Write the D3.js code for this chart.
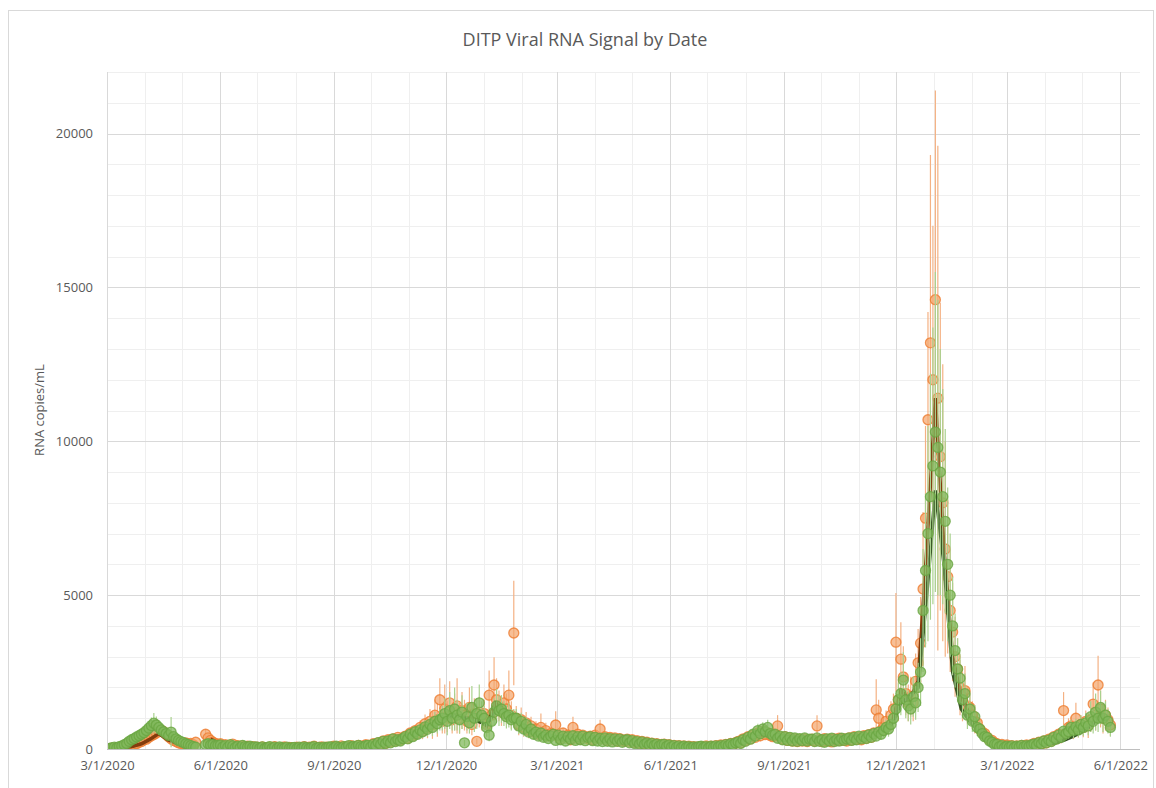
<!DOCTYPE html>
<html>
<head>
<meta charset="utf-8">
<script src="https://cdn.jsdelivr.net/npm/d3@7"></script>
<style>
  body { margin: 0; background: #fff; }
  text { font-family: "Open Sans", "DejaVu Sans", sans-serif; }
</style>
</head>
<body>
<div class="chart"></div>
<script>
// samples every 2 days starting 3/3/2020, one row = 15 samples (30 days)
var sampleStart = new Date(2020, 2, 3);
var sampleStep = 2;

var orangeVals = [
  10, 30, 20, 40, 30, 60, 50, 90, 80, 120, 150, 170, 220, 240, 300,              // 3/3/20
  320, 380, 430, 470, 520, 580, 610, 560, 480, 400, 330, 280, 240, 200, 180,     // 4/2
  170, 200, 150, 180, 140, 220, null, null, null, 480, 360, 280, 220, 180, 150,  // 5/2
  170, 100, 140, 80, 120, 160, 70, 110, 60, 100, 50, 90, 60, 80, 50,             // 6/1
  60, 30, 70, 40, 20, 60, 30, 80, 40, 20, 50, 70, 30, 50, 40,                    // 7/1
  30, 60, 20, 50, 80, 30, 60, 40, 90, 30, 50, 70, 40, 60, 30,                    // 7/31
  60, 90, 50, 40, 100, 60, 80, 50, 110, 70, 60, 120, 80, 100, 140,               // 8/30
  120, 80, 170, 130, 200, 160, 260, 190, 300, 230, 330, 270, 380, 300, 360,      // 9/29
  420, 350, 520, 440, 600, 520, 700, 580, 820, 700, 900, 780, 1100, 950, 1600,   // 10/29
  900, 1300, 1050, 1500, 950, 1200, 1400, 1000, 1250, 1100, 900, 1350, 800, 1150, 250, // 11/28
  1200, 1000, 1150, 800, 1750, 1100, 2080, 1600, 1400, 1200, 1500, 1300, 1750, 1100, 3770, // 12/28
  1000, 800, 950, 700, 850, 600, 750, 550, 650, 480, 700, 520, 600, 420, 500,    // 1/27/21
  480, 780, 400, 330, 520, 380, 450, 300, 700, 360, 480, 320, 450, 380, 330,     // 2/26
  420, 300, 450, 360, 650, 330, 400, 280, 380, 300, 360, 260, 340, 290, 250,     // 3/28
  320, 250, 300, 220, 270, 190, 250, 170, 220, 150, 190, 140, 170, 120, 150,     // 4/27
  160, 100, 140, 80, 120, 70, 110, 60, 100, 50, 90, 60, 80, 50, 70,              // 5/27
  80, 40, 100, 60, 90, 50, 110, 70, 130, 90, 150, 110, 180, 140, 210,            // 6/26
  250, 200, 330, 280, 400, 330, 450, 380, 520, 430, 580, 470, 530, 440, 400,     // 7/26
  450, 750, 380, 320, 400, 280, 350, 260, 330, 240, 310, 260, 330, 240, 300,     // 8/25
  320, 260, 750, 300, 240, 340, 260, 320, 230, 330, 270, 350, 280, 330, 260,     // 9/24
  360, 290, 400, 320, 380, 300, 430, 350, 470, 380, 520, 1270, 1000, 600, 700,   // 10/24
  900, 750, 1100, 1300, 3470, 1600, 2920, 2340, 1800, 1500, 1700, 1500, 2200, 2800, 3440, // 11/23
  5200, 7500, 10700, 13200, 12000, 14600, 11400, 9500, 8000, 6500, 5600, 4500, 3800, 3000, 2600, // 12/23
  2000, 1700, 1900, 1400, 1350, 1100, 900, 850, 650, 550, 500, 380, 300, 280, 200, // 1/22/22
  170, 110, 150, 90, 130, 70, 110, 60, 100, 80, 120, 70, 130, 90, 140,           // 2/21
  180, 130, 220, 160, 260, 200, 320, 260, 400, 330, 480, 400, 1250, 520, 700,    // 3/23
  750, 600, 1000, 650, 800, 700, 900, 760, 950, 1460, 1100, 2080, 1300, 1000, 1100, // 4/22
  950, 780                                                                       // 5/22
];

var orangeErr = [
  10, 10, 10, 15, 15, 20, 20, 30, 30, 40, 50, 60, 70, 80, 90,
  100, 120, 140, 160, 180, 200, 200, 180, 160, 130, 110, 90, 80, 70, 60,
  60, 60, 50, 50, 50, 70, null, null, null, 150, 120, 100, 70, 60, 50,
  40, 40, 35, 30, 30, 30, 25, 25, 25, 20, 20, 20, 20, 20, 20,
  15, 15, 15, 15, 15, 15, 15, 15, 15, 15, 15, 15, 15, 15, 15,
  15, 15, 15, 15, 15, 15, 15, 15, 15, 15, 15, 15, 15, 15, 15,
  15, 20, 20, 20, 20, 20, 25, 20, 25, 25, 25, 30, 30, 30, 30,
  30, 35, 40, 45, 50, 60, 70, 80, 90, 100, 100, 110, 110, 120, 120,
  120, 140, 150, 170, 190, 210, 230, 260, 300, 350, 400, 450, 500, 550, 700,
  400, 800, 500, 700, 450, 600, 900, 500, 600, 500, 400, 650, 350, 500, 100,
  500, 400, 450, 300, 800, 400, 900, 700, 500, 450, 600, 500, 800, 450, 1700,
  400, 350, 400, 300, 350, 250, 300, 200, 250, 180, 450, 200, 250, 150, 200,
  140, 450, 130, 120, 160, 140, 150, 120, 350, 130, 160, 120, 150, 130, 120,
  120, 110, 130, 120, 300, 110, 120, 100, 110, 100, 100, 90, 100, 90, 90,
  90, 85, 80, 75, 75, 70, 70, 65, 60, 55, 55, 50, 50, 45, 45,
  40, 40, 35, 35, 30, 30, 30, 25, 25, 25, 25, 25, 25, 25, 25,
  25, 25, 25, 25, 30, 30, 35, 35, 40, 45, 50, 55, 60, 65, 70,
  70, 80, 90, 110, 120, 140, 150, 160, 170, 180, 180, 170, 160, 150, 140,
  130, 350, 120, 110, 110, 100, 100, 90, 100, 90, 100, 90, 100, 90, 100,
  100, 90, 350, 100, 90, 100, 90, 100, 90, 100, 90, 110, 100, 110, 100,
  110, 120, 110, 130, 120, 140, 130, 150, 150, 160, 170, 1000, 600, 200, 250,
  350, 300, 450, 500, 1600, 700, 1200, 1000, 700, 600, 650, 600, 900, 1100, 1500,
  2500, 3000, 3500, 6100, 5000, 6800, 8200, 5000, 4500, 3500, 2500, 2000, 1600, 1300, 1000,
  900, 800, 800, 600, 550, 450, 400, 350, 280, 250, 200, 160, 140, 120, 100,
  60, 50, 50, 40, 40, 35, 35, 30, 35, 35, 40, 35, 45, 45, 50,
  60, 60, 70, 80, 90, 100, 120, 130, 150, 170, 200, 220, 600, 250, 300,
  300, 280, 500, 280, 300, 320, 350, 400, 400, 700, 500, 950, 600, 500, 500,
  400, 350
];

var greenVals = [
  20, 40, 60, 40, 80, 100, 140, 180, 250, 300, 340, 390, 430, 480, 530,
  600, 680, 760, 840, 780, 700, 620, 560, 500, 440, 550, 400, 330, 280, 240,
  210, 170, 140, 110, 80, 60, null, null, null, 140, 170, 130, 150, 110, 120,
  130, 70, 110, 60, 140, 100, 50, 90, 40, 120, 80, 60, 90, 50, 70,
  60, 30, 70, 20, 50, 80, 30, 60, 20, 70, 40, 30, 60, 20, 40,
  50, 20, 60, 30, 70, 40, 20, 60, 80, 30, 50, 20, 60, 40, 70,
  70, 40, 90, 50, 30, 80, 60, 110, 50, 90, 70, 120, 80, 60, 110,
  120, 70, 150, 110, 210, 150, 250, 180, 260, 200, 330, 240, 300, 260, 340,
  400, 330, 480, 400, 560, 480, 620, 560, 720, 640, 800, 700, 900, 820, 950,
  1000, 1150, 900, 1250, 1000, 1300, 1100, 950, 1200, 200, 1050, 850, 1350, 1000, 1150,
  1500, 1100, 1000, 700, 450, 900, 1200, 1400, 1250, 1300, 1150, 1050, 1100, 950, 1000,
  1000, 750, 900, 650, 800, 550, 650, 480, 550, 420, 520, 380, 450, 340, 420,
  480, 280, 450, 300, 420, 260, 400, 320, 430, 280, 400, 300, 420, 270, 380,
  400, 270, 380, 260, 350, 240, 360, 250, 340, 230, 330, 250, 320, 220, 290,
  300, 200, 270, 180, 240, 160, 230, 150, 200, 130, 180, 120, 160, 100, 140,
  150, 90, 130, 70, 110, 60, 100, 50, 90, 50, 80, 40, 70, 50, 80,
  90, 50, 80, 40, 90, 60, 100, 70, 110, 80, 140, 110, 170, 140, 200,
  230, 180, 300, 250, 380, 320, 480, 420, 600, 500, 650, 560, 700, 500, 450,
  480, 350, 420, 300, 400, 280, 380, 260, 360, 250, 340, 270, 360, 260, 320,
  320, 240, 360, 250, 300, 220, 330, 260, 350, 240, 310, 260, 350, 280, 330,
  360, 280, 380, 300, 420, 330, 400, 340, 460, 380, 500, 420, 550, 480, 600,
  700, 650, 800, 1000, 1300, 1600, 1800, 2240, 1600, 1400, 1300, 1700, 1500, 2000, 2500,
  4500, 5800, 7000, 8200, 9200, 10300, 9800, 9000, 8200, 7400, 6000, 5000, 4000, 3200, 2600,
  2300, 1600, 1800, 1100, 1300, 900, 1050, 700, 650, 500, 400, 380, 260, 220, 150,
  150, 80, 110, 50, 90, 60, 100, 50, 90, 70, 120, 80, 110, 90, 130,
  160, 120, 210, 170, 260, 200, 290, 240, 380, 320, 450, 380, 580, 500, 560,
  700, 600, 720, 620, 800, 700, 850, 750, 1050, 900, 1200, 1000, 1350, 1000, 1100,
  900, 700
];

var greenErr = [
  10, 15, 15, 15, 20, 25, 30, 40, 50, 60, 70, 80, 90, 100, 110,
  200, 220, 260, 330, 280, 240, 200, 170, 150, 130, 490, 110, 100, 90, 80,
  60, 50, 40, 30, 25, 20, null, null, null, 50, 50, 45, 45, 40, 35,
  30, 30, 30, 30, 25, 25, 25, 25, 20, 20, 20, 20, 20, 20, 20,
  15, 15, 15, 15, 15, 15, 15, 15, 15, 15, 15, 15, 15, 15, 15,
  15, 15, 15, 15, 15, 15, 15, 15, 15, 15, 15, 15, 15, 15, 15,
  20, 20, 20, 20, 20, 20, 20, 25, 25, 25, 25, 25, 25, 25, 25,
  30, 30, 35, 40, 45, 50, 55, 60, 70, 75, 80, 85, 90, 95, 100,
  100, 110, 120, 130, 150, 160, 180, 200, 220, 240, 260, 280, 300, 320, 350,
  400, 500, 450, 600, 400, 700, 500, 450, 550, 100, 450, 350, 700, 450, 500,
  600, 450, 400, 300, 200, 350, 450, 550, 500, 450, 400, 380, 400, 350, 300,
  300, 260, 280, 220, 240, 180, 200, 160, 170, 140, 150, 130, 130, 110, 120,
  120, 100, 120, 100, 110, 100, 110, 100, 120, 100, 110, 100, 110, 90, 100,
  100, 90, 100, 90, 90, 80, 90, 80, 90, 80, 90, 80, 80, 70, 80,
  80, 70, 75, 65, 65, 60, 60, 55, 55, 50, 50, 45, 45, 40, 40,
  40, 35, 35, 30, 30, 25, 25, 25, 25, 20, 20, 20, 20, 20, 20,
  20, 20, 20, 20, 25, 25, 30, 30, 35, 40, 45, 50, 55, 60, 70,
  80, 90, 110, 120, 140, 150, 170, 180, 220, 200, 220, 200, 250, 180, 150,
  130, 120, 120, 110, 110, 100, 100, 90, 100, 90, 100, 90, 100, 90, 90,
  90, 90, 100, 90, 80, 80, 90, 90, 100, 90, 90, 90, 100, 90, 100,
  100, 110, 100, 110, 120, 110, 120, 120, 130, 130, 150, 140, 160, 170, 200,
  250, 250, 300, 350, 450, 550, 700, 900, 600, 500, 500, 650, 550, 800, 1100,
  2000, 2500, 3500, 4000, 4500, 5200, 4800, 4000, 3500, 3000, 2500, 2000, 1600, 1200, 1000,
  800, 600, 650, 450, 500, 350, 380, 280, 250, 200, 160, 140, 110, 90, 60,
  40, 30, 30, 25, 25, 20, 25, 20, 25, 25, 30, 30, 30, 35, 35,
  40, 45, 50, 55, 65, 70, 80, 90, 110, 120, 150, 160, 200, 200, 220,
  250, 240, 260, 240, 300, 280, 320, 300, 500, 400, 600, 450, 550, 450, 450,
  400, 300
];

// weekly moving averages starting 3/8/2020, one row = 13 weeks
var avgStart = new Date(2020, 2, 8);
var orangeAvg = [
  20, 40, 90, 170, 320, 500, 300, 200, 160, 190, null, 320, 180,
  120, 100, 80, 60, 45, 40, 40, 38, 40, 40, 42, 45, 50,
  55, 60, 70, 90, 130, 180, 260, 330, 420, 520, 650, 800, 1000,
  1100, 1050, 1000, 950, 750, 1500, 1300, 1050, 750, 550, 470, 430, 410,
  400, 390, 380, 370, 360, 340, 320, 290, 260, 230, 200, 170, 140,
  110, 90, 80, 75, 70, 80, 110, 170, 280, 400, 480, 450, 380,
  340, 320, 310, 300, 310, 300, 320, 330, 350, 380, 450, 650, 900,
  1900, 1600, 2200, 6500, 11400, 6500, 3000, 1700, 1100, 700, 400, 220, 130,
  110, 100, 110, 130, 170, 230, 330, 450, 600, 800, 1100, 1050
];
var greenAvg = [
  40, 90, 200, 370, 620, 720, 520, 330, 170, 80, null, 150, 110,
  90, 75, 65, 55, 45, 40, 40, 40, 40, 40, 42, 45, 50,
  55, 62, 70, 85, 120, 170, 240, 310, 400, 500, 620, 760, 950,
  1080, 1050, 950, 900, 800, 1200, 1250, 1100, 850, 600, 480, 420, 400,
  380, 370, 360, 350, 340, 320, 300, 270, 240, 210, 180, 150, 120,
  100, 85, 75, 70, 70, 80, 110, 180, 320, 480, 550, 450, 360,
  320, 300, 300, 290, 300, 290, 310, 320, 340, 370, 430, 600, 800,
  1500, 1700, 2000, 5000, 8400, 6000, 2500, 1300, 900, 600, 350, 180, 110,
  90, 85, 90, 110, 150, 210, 300, 420, 560, 750, 1000, 950
];

var yTicks = [0, 5000, 10000, 15000, 20000];
var xTickLabels = ["3/1/2020", "6/1/2020", "9/1/2020", "12/1/2020", "3/1/2021",
                   "6/1/2021", "9/1/2021", "12/1/2021", "3/1/2022", "6/1/2022"];

var NS = {};
NS.width = 1156;
NS.height = 788;
NS.left = 107;
NS.right = 1140;
NS.top = 72;
NS.bottom = 749;

function parseMDY(s) {
  var p = s.split("/");
  return new Date(+p[2], +p[0] - 1, +p[1]);
}

// turn value/err arrays into point objects
function makePoints(start, step, vals, errs) {
  var pts = [];
  for (var i = 0; i < vals.length; i++) {
    pts.push({
      date: d3.timeDay.offset(start, step * i),
      value: vals[i],
      err: errs ? errs[i] : null
    });
  }
  return pts;
}

function main() {
  var svg = d3.select(".chart").append("svg")
      .attr("width", NS.width)
      .attr("height", NS.height);

  // outer chart border
  svg.append("rect")
      .attr("x", 8.5).attr("y", 10.5)
      .attr("width", 1145).attr("height", 800)
      .attr("fill", "#fff")
      .attr("stroke", "#d9d9d9");

  var x = d3.scaleTime()
      .domain([new Date(2020, 2, 1), new Date(2022, 5, 17)])
      .range([NS.left, NS.right]);
  var y = d3.scaleLinear()
      .domain([0, 22000])
      .range([NS.bottom, NS.top]);

  svg.append("defs").append("clipPath").attr("id", "plot")
    .append("rect")
      .attr("x", NS.left).attr("y", NS.top)
      .attr("width", NS.right - NS.left).attr("height", NS.bottom - NS.top);

  // gridlines: minor first, then major
  var grid = svg.append("g").attr("class", "grid");
  grid.selectAll(".hminor")
    .data(y.ticks(22))
    .enter().append("line")
      .attr("x1", NS.left).attr("x2", NS.right)
      .attr("y1", function(d) { return Math.round(y(d)) + 0.5; })
      .attr("y2", function(d) { return Math.round(y(d)) + 0.5; })
      .attr("stroke", "#efefef");
  grid.selectAll(".vminor")
    .data(d3.timeMonth.range(new Date(2020, 3, 1), new Date(2022, 5, 2)))
    .enter().append("line")
      .attr("y1", NS.top).attr("y2", NS.bottom)
      .attr("x1", function(d) { return Math.round(x(d)) + 0.5; })
      .attr("x2", function(d) { return Math.round(x(d)) + 0.5; })
      .attr("stroke", "#efefef");
  grid.selectAll(".hmajor")
    .data(yTicks.slice(1))
    .enter().append("line")
      .attr("x1", NS.left).attr("x2", NS.right)
      .attr("y1", function(d) { return Math.round(y(d)) + 0.5; })
      .attr("y2", function(d) { return Math.round(y(d)) + 0.5; })
      .attr("stroke", "#d9d9d9");
  grid.selectAll(".vmajor")
    .data(xTickLabels.map(parseMDY))
    .enter().append("line")
      .attr("y1", NS.top).attr("y2", NS.bottom)
      .attr("x1", function(d) { return Math.round(x(d)) + 0.5; })
      .attr("x2", function(d) { return Math.round(x(d)) + 0.5; })
      .attr("stroke", "#d9d9d9");
  // bottom axis line
  grid.append("line")
      .attr("x1", NS.left).attr("x2", NS.right)
      .attr("y1", Math.round(y(0)) + 0.5).attr("y2", Math.round(y(0)) + 0.5)
      .attr("stroke", "#bfbfbf");

  // axes (labels only)
  var fmt = d3.timeFormat("%-m/%-d/%Y");
  var xAxis = svg.append("g")
      .attr("transform", "translate(0," + NS.bottom + ")")
      .call(d3.axisBottom(x).tickValues(xTickLabels.map(parseMDY))
            .tickFormat(fmt).tickSize(0).tickPadding(12));
  var yAxis = svg.append("g")
      .attr("transform", "translate(" + NS.left + ",0)")
      .call(d3.axisLeft(y).tickValues(yTicks).tickFormat(d3.format("d"))
            .tickSize(0).tickPadding(14));
  [xAxis, yAxis].forEach(function(a) {
    a.select(".domain").remove();
    a.selectAll("text")
      .attr("fill", "#595959")
      .style("font-size", "13px")
      .style("font-family", "\"Open Sans\", sans-serif");
  });

  if (orangeVals.length != orangeErr.length || greenVals.length != greenErr.length)
    console.warn("array lengths differ");

  var orange = makePoints(sampleStart, sampleStep, orangeVals, orangeErr)
      .filter(function(d) { return d.value != null; });
  var green = makePoints(sampleStart, sampleStep, greenVals, greenErr)
      .filter(function(d) { return d.value != null; });
  var orangeLine = makePoints(avgStart, 7, orangeAvg, null);
  var greenLine = makePoints(avgStart, 7, greenAvg, null);

  var plot = svg.append("g").attr("clip-path", "url(#plot)");

  var line = d3.line()
      .defined(function(d) { return d.value != null; })
      .x(function(d) { return x(d.date); })
      .y(function(d) { return y(d.value); });

  function drawSeries(pts, errColor, fill, fillOp, stroke) {
    plot.append("g").selectAll("line")
      .data(pts)
      .enter().append("line")
        .attr("x1", function(d) { return x(d.date); })
        .attr("x2", function(d) { return x(d.date); })
        .attr("y1", function(d) { return y(Math.max(0, d.value - d.err)); })
        .attr("y2", function(d) { return y(d.value + d.err); })
        .attr("stroke", errColor)
        .attr("stroke-width", 1.2);
    plot.append("g").selectAll("circle")
      .data(pts)
      .enter().append("circle")
        .attr("cx", function(d) { return x(d.date); })
        .attr("cy", function(d) { return y(d.value); })
        .attr("r", 5)
        .attr("fill", fill)
        .attr("fill-opacity", fillOp)
        .attr("stroke", stroke)
        .attr("stroke-opacity", 0.8)
        .attr("stroke-width", 1.3);
  }

  // orange markers, then both averages, then green markers on top
  drawSeries(orange, "#f4b183", "#f4a46a", 0.7, "#ed7d31");

  plot.append("path").datum(orangeLine)
      .attr("d", line)
      .attr("fill", "none")
      .attr("stroke", "#843c0c")
      .attr("stroke-width", 3.5);
  plot.append("path").datum(greenLine)
      .attr("d", line)
      .attr("fill", "none")
      .attr("stroke", "#375623")
      .attr("stroke-width", 3.5);

  drawSeries(green, "#a9d18e", "#82b85c", 0.75, "#6aa642");

  // left axis line
  svg.append("line")
      .attr("x1", NS.left + 0.5).attr("x2", NS.left + 0.5)
      .attr("y1", NS.top).attr("y2", NS.bottom)
      .attr("stroke", "#d9d9d9");

  // titles
  svg.append("text")
      .attr("x", 585).attr("y", 46)
      .attr("text-anchor", "middle")
      .attr("fill", "#595959")
      .style("font-size", "18px")
      .text("DITP Viral RNA Signal by Date");
  svg.append("text")
      .attr("transform", "translate(44,410) rotate(-90)")
      .attr("text-anchor", "middle")
      .attr("fill", "#595959")
      .style("font-size", "13px")
      .text("RNA copies/mL");
}

main();
</script>
</body>
</html>
